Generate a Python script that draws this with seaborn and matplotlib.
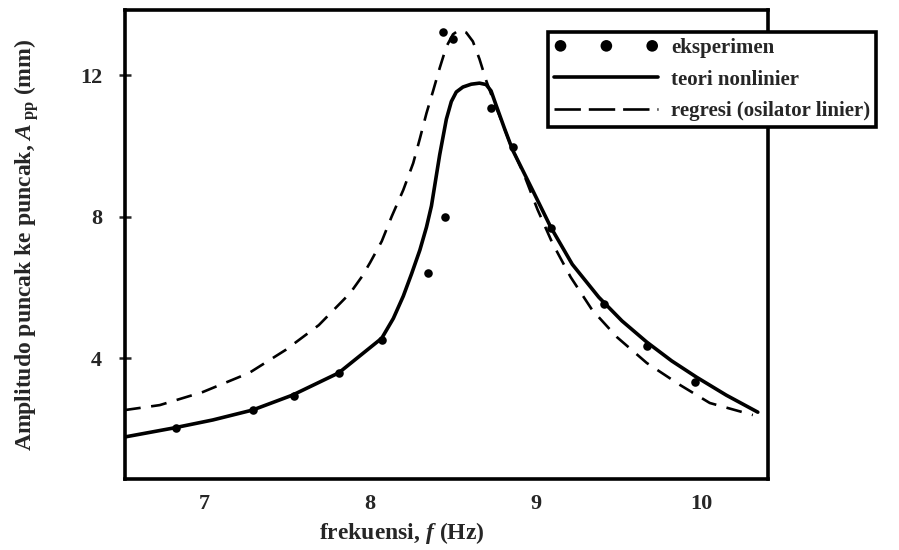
import matplotlib
matplotlib.use("Agg")
import matplotlib.pyplot as plt
import seaborn as sns
import pandas as pd

# eksperimen (titik data)
f_eksp = [6.83, 7.29, 7.54, 7.81, 8.07, 8.35, 8.45, 8.44, 8.50, 8.73, 8.86, 9.09, 9.41, 9.67, 9.96]
a_eksp = [2.02, 2.53, 2.93, 3.58, 4.51, 6.40, 7.98, 13.21, 13.01, 11.06, 9.96, 7.67, 5.53, 4.34, 3.32]

# teori nonlinier (garis penuh)
f_teori = [6.52, 6.81, 7.05, 7.29, 7.53, 7.81, 8.07, 8.14, 8.20, 8.25, 8.30, 8.34, 8.37, 8.42,
           8.46, 8.49, 8.52, 8.56, 8.61, 8.66, 8.70, 8.73, 8.76, 8.81, 8.86, 8.98, 9.09, 9.22,
           9.38, 9.52, 9.67, 9.82, 9.97, 10.15, 10.34]
a_teori = [1.77, 2.02, 2.25, 2.53, 2.95, 3.58, 4.56, 5.12, 5.75, 6.38, 7.05, 7.70, 8.30, 9.75,
           10.75, 11.25, 11.52, 11.66, 11.74, 11.77, 11.73, 11.55, 11.15, 10.50, 9.88, 8.75, 7.70, 6.65,
           5.72, 5.05, 4.45, 3.92, 3.46, 2.95, 2.47]

# regresi (osilator linier) (garis putus-putus)
f_regresi = [6.52, 6.73, 6.99, 7.27, 7.49, 7.69, 7.88, 7.95, 8.00, 8.07, 8.13, 8.20, 8.26, 8.30,
             8.34, 8.38, 8.42, 8.46, 8.50, 8.54, 8.58, 8.62, 8.66, 8.70, 8.75, 8.78, 8.85, 8.93,
             9.01, 9.10, 9.21, 9.34, 9.49, 9.67, 9.87, 10.05, 10.31]
a_regresi = [2.53, 2.67, 3.04, 3.58, 4.23, 4.93, 5.84, 6.30, 6.70, 7.30, 8.00, 8.75, 9.51, 10.20,
             10.92, 11.55, 12.20, 12.80, 13.15, 13.28, 13.20, 12.95, 12.45, 11.85, 11.20, 10.86, 10.00, 9.17,
             8.20, 7.25, 6.29, 5.36, 4.59, 3.86, 3.24, 2.73, 2.39]

xticks = [7, 8, 9, 10]
yticks = [4, 8, 12]

df_eksp = pd.DataFrame({"f": f_eksp, "A": a_eksp})
df_teori = pd.DataFrame({"f": f_teori, "A": a_teori})
df_regresi = pd.DataFrame({"f": f_regresi, "A": a_regresi})

sns.set_style("ticks")
plt.rcParams["font.family"] = ["Liberation Serif", "DejaVu Serif"]
plt.rcParams["font.weight"] = "bold"
plt.rcParams["mathtext.fontset"] = "custom"
plt.rcParams["mathtext.rm"] = "Liberation Serif:bold"
plt.rcParams["mathtext.it"] = "Liberation Serif:italic:bold"
plt.rcParams["mathtext.bf"] = "Liberation Serif:bold"

fig = plt.figure(figsize=(8.99, 5.5), dpi=100)
ax = fig.add_axes([0.139, 0.129, 0.715, 0.853])

sns.scatterplot(data=df_eksp, x="f", y="A", ax=ax, color="black", s=38,
                edgecolor="black", linewidth=0, label="eksperimen", zorder=3)
sns.lineplot(data=df_teori, x="f", y="A", ax=ax, color="black", linewidth=2.6,
             sort=False, estimator=None, label="teori nonlinier")
sns.lineplot(data=df_regresi, x="f", y="A", ax=ax, color="black", linewidth=1.9,
             sort=False, estimator=None, label="regresi (osilator linier)")
ax.lines[-1].set_dashes((6, 4))

ax.set_xlim(6.52, 10.40)
ax.set_ylim(0.58, 13.84)
ax.set_xticks(xticks)
ax.set_yticks(yticks)
ax.tick_params(axis="x", length=0, pad=11, labelsize=16)
ax.tick_params(axis="y", direction="inout", length=9, width=1.8, pad=12, labelsize=16)
for lab in ax.get_xticklabels() + ax.get_yticklabels():
    lab.set_fontweight("bold")

for sp in ax.spines.values():
    sp.set_linewidth(2.6)
    sp.set_color("black")

ax.set_xlabel(r"frekuensi, $\mathit{f}$ (Hz)", fontsize=17, fontweight="bold")
ax.set_ylabel(r"Amplitudo puncak ke puncak, $\mathit{A}_{\;\mathrm{pp}}$ (mm)", fontsize=17, fontweight="bold")
ax.xaxis.set_label_coords(0.43, -0.088)
ax.yaxis.set_label_coords(-0.13, 0.5)

leg = ax.legend(loc="upper left", bbox_to_anchor=(0.6096, 0.942), bbox_transform=fig.transFigure,
                frameon=True, fancybox=False, edgecolor="black", framealpha=1,
                scatterpoints=3, scatteryoffsets=[0.5], handlelength=5.0, labelspacing=0.55,
                borderpad=0.3, handletextpad=0.6, borderaxespad=0,
                prop={"family": "Liberation Serif", "weight": "bold", "size": 15})
leg.get_frame().set_linewidth(2.6)
leg.legend_handles[0].set_sizes([70, 70, 70])
leg.get_lines()[-1].set_dashes((10, 3))

fig.savefig("out.png", dpi=100, facecolor="white")
